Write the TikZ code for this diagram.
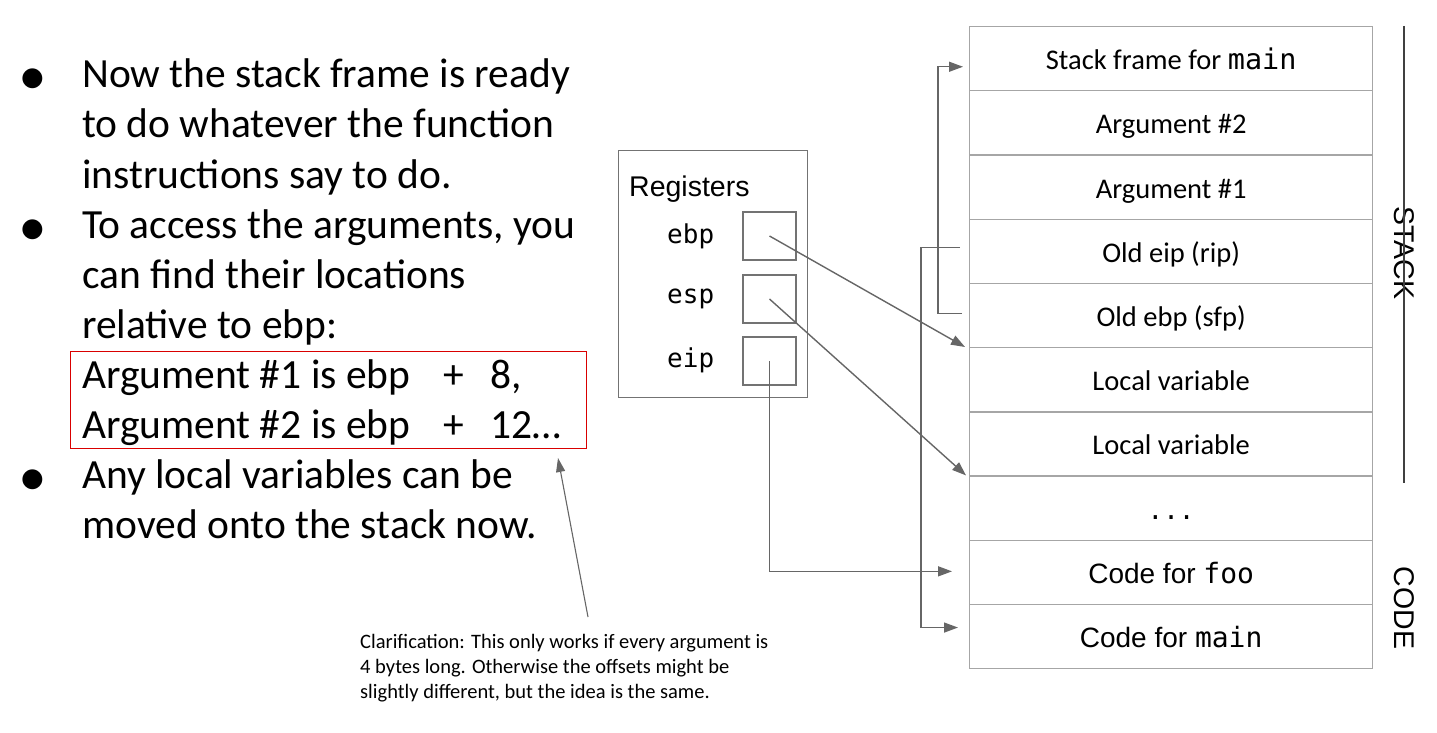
\documentclass[tikz,border=0pt]{standalone}
\usepackage{fontspec}
\setmainfont{Carlito}
\newfontfamily\arialf{Liberation Sans}
\newfontfamily\monof{DejaVu Sans Mono}
\newfontfamily\symf{DejaVu Sans}
\usetikzlibrary{arrows.meta,calc}
\begin{document}
\begin{tikzpicture}[x=1pt,y=-1pt,
  cell/.style={draw=black!35,line width=1.3pt,minimum width=403pt,minimum height=64.2pt,
    anchor=north west,inner sep=0pt,text height=26pt,text depth=4pt,
    font=\fontsize{28.5}{32}\selectfont},
  codecell/.style={cell,font=\arialf\fontsize{28}{32}\selectfont},
  regbox/.style={draw=black!55,line width=1.3pt,minimum width=53pt,minimum height=48pt,inner sep=0pt},
  reglabel/.style={font=\monof\fontsize{26}{30}\selectfont,anchor=west},
  link/.style={draw=black!60,line width=1.4pt,-{Triangle[length=14pt,width=10pt]}},
  body/.style={font=\fontsize{41.5}{50}\selectfont,anchor=base west,inner sep=0pt},
  bull/.style={font=\symf\fontsize{26}{30}\selectfont,anchor=base west,inner sep=0pt},
  side/.style={font=\arialf\fontsize{28.5}{30}\selectfont,rotate=-90,inner sep=2pt}]
\useasboundingbox (0,0) rectangle (1437,733);

% bullet text on the left
\node[bull] (b1) at (21,86) {●};
\node[bull] (b2) at (21,236) {●};
\node[bull] (b3) at (21,486) {●};
\node[body] (t1) at (82,88) {Now the stack frame is ready};
\node[body] (t2) at (82,138) {to do whatever the function};
\node[body] (t3) at (82,188) {instructions say to do.};
\node[body] (t4) at (82,238) {To access the arguments, you};
\node[body] (t5) at (82,288) {can find their locations};
\node[body] (t6) at (82,338) {relative to ebp:};
\node[body] (t7) at (82,388) {Argument \#1 is ebp\hspace{33pt}+\hspace{26pt}8,};
\node[body] (t8) at (82,438) {Argument \#2 is ebp\hspace{33pt}+\hspace{26pt}12…};
\node[body] (t9) at (82,488) {Any local variables can be};
\node[body] (t10) at (82,538) {moved onto the stack now.};

% highlight around the offsets
\node[draw=red!85!black,line width=1.3pt,minimum width=516pt,minimum height=97pt,
  anchor=north west,inner sep=0pt] (hl) at (70,351) {};

% clarification note
\node[anchor=north west,align=left,inner sep=0pt,font=\fontsize{20.5}{25}\selectfont] (note) at (360,634)
  {Clarification: This only works if every argument is\\
   4 bytes long. Otherwise the offsets might be\\
   slightly different, but the idea is the same.};
\coordinate (notetop) at (588,617);
\draw[draw=black!60,line width=1.1pt,-{Triangle[length=14pt,width=9pt]}] (notetop) -- (558,458);

% registers
\node[draw=black!55,line width=1.3pt,minimum width=189pt,minimum height=247pt,
  anchor=north west,inner sep=0pt] (regs) at (618,150) {};
\node[anchor=west,inner sep=0pt,font=\arialf\fontsize{28.5}{30}\selectfont] (regtitle) at (629,189) {Registers};
\node[regbox] (rbp) at (769.5,236) {};
\node[regbox] (rsp) at (769.5,299) {};
\node[regbox] (rip) at (769.5,361) {};
\node[reglabel,inner sep=0pt] (lbp) at (667,236) {ebp};
\node[reglabel,inner sep=0pt] (lsp) at (667,299) {esp};
\node[reglabel,inner sep=0pt] (lip) at (667,360) {eip};

% stack cells
\node[cell] (c1) at (969,26) {Stack frame for {\monof main}};
\node[cell] (c2) at (969,90.2) {Argument \#2};
\node[cell] (c3) at (969,154.4) {Argument \#1};
\node[cell] (c4) at (969,218.6) {Old eip (rip)};
\node[cell] (c5) at (969,282.8) {Old ebp (sfp)};
\node[cell] (c6) at (969,347) {Local variable};
\node[cell] (c7) at (969,411.2) {Local variable};
\node[cell,font=\monof\fontsize{26}{30}\selectfont] (c8) at (969,475.4) {...};
\node[codecell] (c9) at (969,539.6) {Code for {\monof foo}};
\node[codecell] (c10) at (969,603.8) {Code for {\monof main}};

% region labels
\node[side] (lstack) at (1404,253) {STACK};
\node[side] (lcode) at (1404,608) {CODE};
\coordinate (stacktop) at (1404,26);
\coordinate (stackbot) at (1404,483);
\draw[black!75,line width=1.2pt] (stacktop) -- (lstack.east);
\draw[black!75,line width=1.2pt] (lstack.west) -- (stackbot);

% register pointers
\draw[link] (rbp.center) -- ($(c6.north west)+(-4,0)$);
\draw[link] (rsp.center) -- ($(c8.north west)+(-3,0)$);
\draw[link] (rip.center) |- ($(c9.west)+(-17,-1)$);

% saved pointers
\draw[link] ($(c4.west)+(-9,-4)$) -- ++(-39,0) |- ($(c10.west)+(-11,-9)$);
\draw[link] ($(c5.west)+(-7,-2)$) -- ++(-24,0) |- ($(c1.west)+(-6,8)$);
\end{tikzpicture}
\end{document}
